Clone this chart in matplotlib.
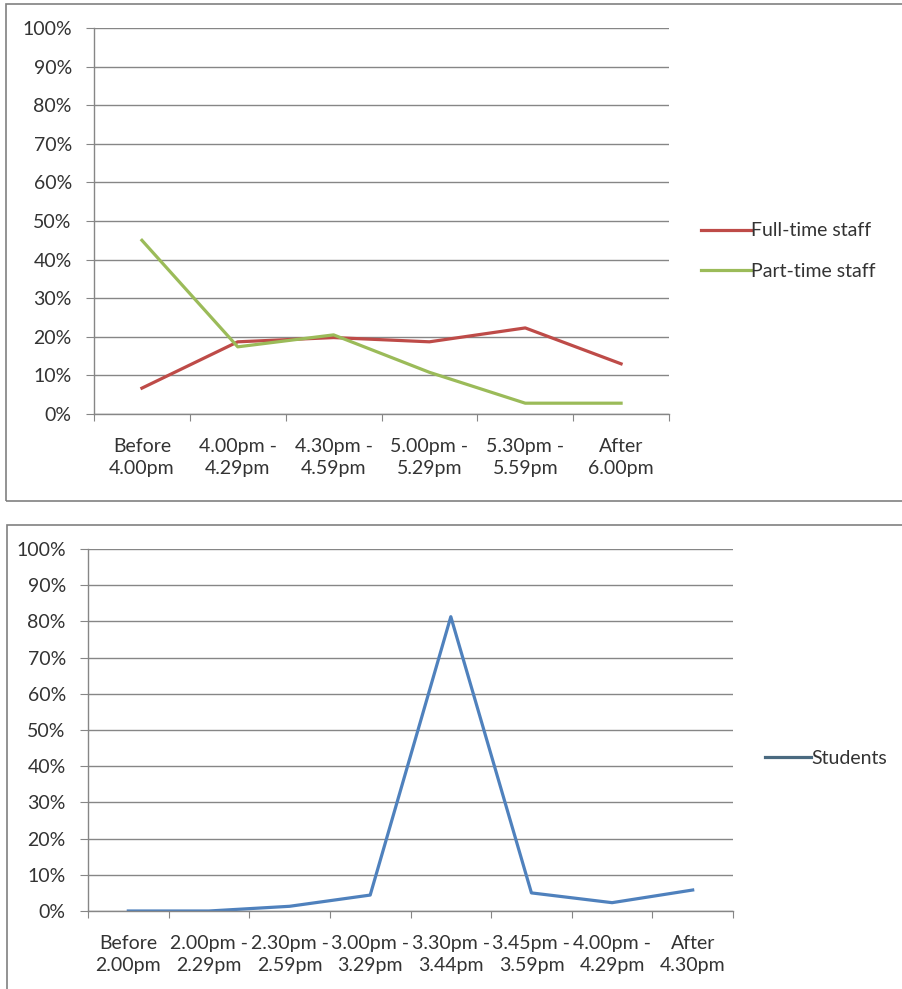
import matplotlib
matplotlib.use("Agg")
import matplotlib.pyplot as plt
from matplotlib.patches import Rectangle
from matplotlib.ticker import FixedLocator, PercentFormatter
import numpy as np

# ---- data ----
staff_categories = ["Before\n4.00pm", "4.00pm -\n4.29pm", "4.30pm -\n4.59pm",
                    "5.00pm -\n5.29pm", "5.30pm -\n5.59pm", "After\n6.00pm"]
full_time = [6.7, 18.7, 19.8, 18.7, 22.3, 13.0]
part_time = [45.0, 17.4, 20.5, 10.8, 2.8, 2.8]

student_categories = ["Before\n2.00pm", "2.00pm -\n2.29pm", "2.30pm -\n2.59pm",
                      "3.00pm -\n3.29pm", "3.30pm -\n3.44pm", "3.45pm -\n3.59pm",
                      "4.00pm -\n4.29pm", "After\n4.30pm"]
students = [0.0, 0.0, 1.3, 4.4, 81.3, 5.0, 2.3, 5.8]

yticks = [0, 10, 20, 30, 40, 50, 60, 70, 80, 90, 100]

plt.rcParams['font.family'] = ['Lato', 'DejaVu Sans']

W, H = 902, 989
fig = plt.figure(figsize=(W / 100, H / 100), dpi=100)
fig.patch.set_facecolor("white")

def fx(px):
    return px / W

def fy(py):
    return 1 - py / H

# outer boxes
fig.patches.append(Rectangle((fx(6), fy(501)), fx(1000), fy(4) - fy(501),
                             transform=fig.transFigure, fill=False,
                             edgecolor="#808080", lw=1.2))
fig.patches.append(Rectangle((fx(7), fy(1000)), fx(1000), fy(525) - fy(1000),
                             transform=fig.transFigure, fill=False,
                             edgecolor="#808080", lw=1.2))

grid_color = "#868686"
text_color = "#333333"
fs = 14

def style_axes(ax, cats):
    n = len(cats)
    ax.set_xlim(0, n)
    ax.set_ylim(0, 100)
    ax.yaxis.set_major_locator(FixedLocator(yticks))
    ax.yaxis.set_major_formatter(PercentFormatter(decimals=0))
    ax.set_xticks(np.arange(n + 1))
    ax.set_xticklabels([])
    ax.set_xticks(np.arange(n) + 0.5, minor=True)
    ax.set_xticklabels(cats, minor=True, fontsize=fs, color=text_color,
                       linespacing=1.4)
    ax.tick_params(axis="x", which="minor", length=0, pad=17)
    ax.tick_params(axis="x", which="major", length=5, direction="out",
                   color=grid_color)
    ax.tick_params(axis="y", length=6, direction="out", color=grid_color,
                   labelsize=fs, labelcolor=text_color, pad=10)
    ax.grid(axis="y", color=grid_color, lw=1.0)
    ax.set_axisbelow(True)
    for s in ("top", "right"):
        ax.spines[s].set_visible(False)
    for s in ("left", "bottom"):
        ax.spines[s].set_color(grid_color)
        ax.spines[s].set_linewidth(1.0)

# ---- top chart ----
ax1 = fig.add_axes([fx(94), fy(414), fx(669) - fx(94), fy(28) - fy(414)])
x1 = np.arange(len(staff_categories)) + 0.5
ax1.plot(x1, full_time, color="#BE4B48", lw=2.3, label="Full-time staff")
ax1.plot(x1, part_time, color="#9BBB59", lw=2.3, label="Part-time staff")
style_axes(ax1, staff_categories)
leg1 = ax1.legend(loc="center left", bbox_to_anchor=(fx(683), fy(251)),
                  bbox_transform=fig.transFigure, frameon=False, fontsize=fs,
                  handlelength=2.6, handletextpad=0.0, labelspacing=1.2,
                  labelcolor=text_color)

# ---- bottom chart ----
ax2 = fig.add_axes([fx(88), fy(911), fx(733) - fx(88), fy(549) - fy(911)])
x2 = np.arange(len(student_categories)) + 0.5
ax2.plot(x2, students, color="#4F81BD", lw=2.3, label="Students")
style_axes(ax2, student_categories)
leg2 = ax2.legend(loc="center left", bbox_to_anchor=(fx(747), fy(758)),
                  bbox_transform=fig.transFigure, frameon=False, fontsize=fs,
                  handlelength=2.4, handletextpad=0.0, labelcolor=text_color)
for h in leg2.legend_handles:
    h.set_color("#4A6A80")

fig.savefig("out.png", dpi=100, facecolor="white")
